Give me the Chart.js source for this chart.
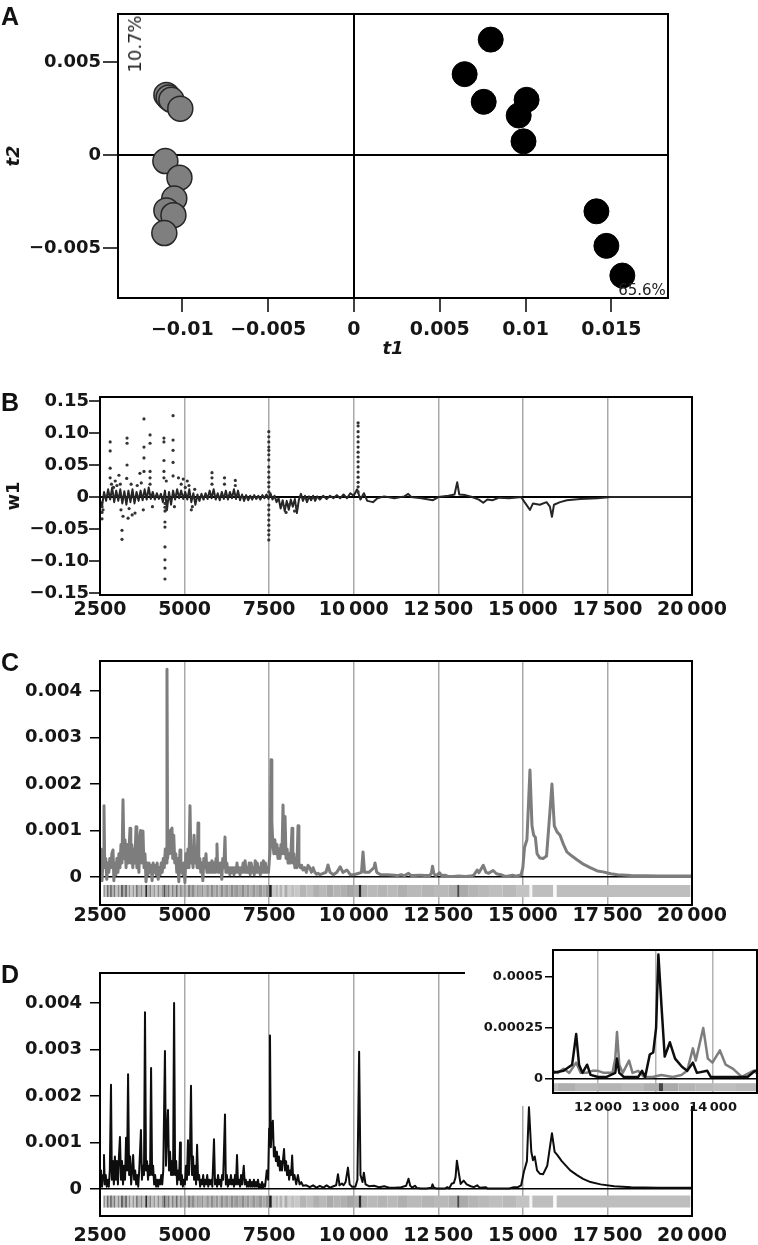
<!DOCTYPE html>
<html>
<head>
<meta charset="utf-8">
<script src="https://cdn.jsdelivr.net/npm/chart.js@4.4.1/dist/chart.umd.min.js"></script>
<style>
  html, body { margin: 0; padding: 0; background: #fff; }
  #page { position: relative; width: 758px; height: 1245px; overflow: hidden; }
  canvas, .tag, .note, #insetBg { position: absolute; }
  .tag { left: 1px; font: bold 25px 'Liberation Sans', Arial, sans-serif; line-height: 1; color: #111; }
  .note { font-family: 'DejaVu Sans', sans-serif; line-height: 1; color: #222; white-space: nowrap; transform: translate(-50%, -50%); }
  #insetBg { left: 465px; top: 940px; width: 293px; height: 166px; background: #fff; }
</style>
</head>
<body>
<div id="page">
  <canvas id="chartA" width="758" height="370" style="left:0;top:0"></canvas>
  <canvas id="chartB" width="758" height="250" style="left:0;top:380px"></canvas>
  <canvas id="chartC" width="758" height="290" style="left:0;top:640px"></canvas>
  <canvas id="chartD" width="758" height="315" style="left:0;top:930px"></canvas>
  <div id="insetBg"></div>
  <canvas id="chartInset" width="293" height="180" style="left:465px;top:940px"></canvas>
  <div class="tag" style="top:4px">A</div>
  <div class="tag" style="top:390px">B</div>
  <div class="tag" style="top:650px">C</div>
  <div class="tag" style="top:962px">D</div>
  <div class="note" style="left:135px;top:44px;font-size:18px;transform:translate(-50%,-50%) rotate(-90deg)">10.7%</div>
  <div class="note" style="left:642px;top:290px;font-size:15px">65.6%</div>
</div>
<script>
// ---- panel A: scores ----
const greyT1 = [-0.01093, -0.0108, -0.01064, -0.01012, -0.01099, -0.01017, -0.01047, -0.01093, -0.01052, -0.01105];
const greyT2 = [0.00324, 0.0031, 0.00298, 0.0025, -0.00032, -0.00122, -0.00234, -0.00298, -0.00324, -0.0042];
const blackT1 = [0.00797, 0.00645, 0.00756, 0.01006, 0.0096, 0.00988, 0.01413, 0.01471, 0.01564];
const blackT2 = [0.00622, 0.00436, 0.00287, 0.00298, 0.00213, 0.00074, -0.00303, -0.00489, -0.00649];
const scoreXTicks = [-0.01, -0.005, 0, 0.005, 0.01, 0.015];
const scoreXLabels = ['\u22120.01', '\u22120.005', '0', '0.005', '0.01', '0.015'];
const scoreYTicks = [-0.005, 0, 0.005];
const scoreYLabels = ['\u22120.005', '0', '0.005'];

// ---- shared m/z axis ----
const massTicks = [2500, 5000, 7500, 10000, 12500, 15000, 17500, 20000];
const massLabels = ['2500', '5000', '7500', '10\u2009000', '12\u2009500', '15\u2009000', '17\u2009500', '20\u2009000'];
const massGrid = [5000, 7500, 10000, 12500, 15000, 17500];

// ---- panel B: loadings w1 ----
const w1Ticks = [-0.15, -0.1, -0.05, 0, 0.05, 0.1, 0.15];
const w1Labels = ['\u22120.15', '\u22120.10', '\u22120.05', '0', '0.05', '0.10', '0.15'];
const w1Trace = [[2500,-0.005],[2560,-0.015],[2620,0.008],[2680,-0.006],[2740,0.012],[2800,-0.004],[2860,0.015],[2920,-0.008],[2980,0.01],[3040,-0.006],[3100,0.012],[3160,-0.01],[3220,0.009],[3280,-0.012],[3340,0.01],[3400,-0.008],[3460,0.012],[3520,-0.01],[3580,0.008],[3640,-0.006],[3700,0.01],[3760,-0.005],[3820,0.012],[3880,-0.004],[3940,0.015],[4000,-0.003],[4060,0.008],[4120,-0.004],[4180,0.006],[4240,-0.003],[4300,0.005],[4360,-0.008],[4420,0.01],[4480,-0.02],[4540,0.008],[4600,-0.012],[4660,0.01],[4720,-0.004],[4780,0.012],[4840,-0.002],[4900,0.01],[4960,-0.003],[5020,0.008],[5080,-0.004],[5140,0.012],[5200,-0.008],[5260,0.006],[5320,-0.012],[5380,0.004],[5440,-0.006],[5500,0.005],[5560,-0.004],[5620,0.006],[5680,-0.003],[5740,0.01],[5800,-0.002],[5860,0.012],[5920,-0.004],[5980,0.006],[6040,-0.005],[6100,0.008],[6160,-0.003],[6220,0.01],[6280,-0.004],[6340,0.008],[6400,-0.002],[6460,0.012],[6520,-0.003],[6580,0.01],[6640,-0.005],[6700,0.004],[6760,-0.006],[6820,0.003],[6880,-0.005],[6940,0.002],[7000,-0.004],[7060,0.003],[7120,-0.003],[7180,0.002],[7240,-0.004],[7300,0.003],[7360,-0.002],[7420,0.004],[7480,-0.003],[7540,0.006],[7600,-0.004],[7660,0.002],[7720,-0.008],[7780,-0.002],[7840,-0.018],[7900,-0.005],[7960,-0.022],[8020,-0.006],[8080,-0.02],[8140,-0.004],[8200,-0.015],[8260,-0.003],[8320,-0.025],[8380,-0.004],[8440,0.005],[8500,-0.006],[8560,0.002],[8620,-0.008],[8680,0.001],[8740,-0.005],[8800,0.002],[8860,-0.006],[8920,0.001],[9000,-0.004],[9100,0.002],[9200,-0.003],[9300,0.002],[9400,-0.002],[9500,0.003],[9600,-0.002],[9700,0.004],[9800,-0.002],[9900,0.006],[10000,0.002],[10100,0.012],[10200,-0.004],[10300,0.006],[10400,-0.006],[10570,-0.008],[10700,-0.002],[10900,0.001],[11200,-0.002],[11500,0.001],[11610,0.005],[11700,0],[12000,-0.002],[12345,-0.005],[12500,0],[12800,0.002],[12980,0.004],[13060,0.023],[13120,0.004],[13300,0.003],[13500,0],[13700,-0.004],[13830,-0.009],[13950,-0.004],[14100,-0.005],[14300,-0.001],[14600,-0.002],[14950,0],[15050,-0.008],[15210,-0.02],[15300,-0.01],[15500,-0.012],[15700,-0.008],[15800,-0.015],[15860,-0.031],[15920,-0.012],[16100,-0.008],[16300,-0.005],[16700,-0.003],[17200,-0.002],[17600,0],[20000,0]];
const w1Dots = [[2560,-0.015],[2560,-0.024],[2560,-0.034],[2590,-0.02],[2800,0.086],[2800,0.072],[2800,0.045],[2800,0.03],[2840,0.02],[2900,0.015],[2950,0.025],[3000,0.018],[3060,0.034],[3100,0.02],[3150,-0.052],[3150,-0.066],[3120,-0.02],[3180,-0.03],[3300,0.092],[3300,0.084],[3300,0.05],[3290,0.029],[3330,-0.033],[3360,-0.018],[3420,0.02],[3450,-0.028],[3535,-0.025],[3600,0.018],[3680,0.037],[3720,0.022],[3800,0.122],[3800,0.078],[3800,0.061],[3800,0.04],[3780,-0.02],[3980,0.097],[3980,0.084],[3980,0.04],[3980,0.03],[3980,0.02],[4050,-0.015],[4390,0.092],[4390,0.086],[4390,0.057],[4390,0.04],[4390,0.03],[4420,-0.01],[4420,-0.016],[4420,-0.022],[4420,-0.039],[4420,-0.047],[4420,-0.078],[4420,-0.098],[4420,-0.111],[4420,-0.128],[4460,-0.02],[4460,0.025],[4660,0.127],[4660,0.089],[4660,0.073],[4660,0.054],[4660,0.033],[4700,-0.015],[4820,0.03],[4900,0.02],[4960,0.028],[5020,0.015],[5080,0.025],[5130,0.018],[5200,-0.02],[5230,-0.015],[5300,0.012],[5810,0.038],[5810,0.03],[5810,0.02],[6180,0.03],[6180,0.02],[6500,0.026],[6500,0.018],[7490,0.102],[7490,0.094],[7490,0.086],[7490,0.078],[7490,0.073],[7490,0.066],[7490,0.058],[7490,0.047],[7490,0.039],[7490,0.031],[7490,0.023],[7490,0.016],[7490,0.008],[7490,-0.0125],[7490,-0.02],[7490,-0.028],[7490,-0.036],[7490,-0.044],[7490,-0.052],[7490,-0.059],[7490,-0.067],[7950,-0.015],[8000,-0.024],[8100,-0.012],[8250,-0.022],[8320,-0.015],[10130,0.116],[10130,0.111],[10130,0.102],[10130,0.094],[10130,0.086],[10130,0.078],[10130,0.07],[10130,0.0625],[10130,0.055],[10130,0.047],[10130,0.039],[10130,0.031],[10130,0.023],[10130,0.016],[10130,0.008]];

// ---- panels C / D: mean spectra ----
const intensityTicks = [0, 0.001, 0.002, 0.003, 0.004];
const intensityLabels = ['0', '0.001', '0.002', '0.003', '0.004'];
const spectrumC = [[2500,0.0002],[2530,0.0006],[2560,-0.00008],[2590,0.0004],[2618,0.00153],[2640,0.0002],[2670,0.0004],[2700,-0.00005],[2730,0.0003],[2760,0.0001],[2790,0.0004],[2820,0.0002],[2850,0.0005],[2884,0.00058],[2910,-0.00008],[2940,0.0003],[2970,0.00005],[3000,0.0004],[3030,0.0001],[3060,0.0005],[3090,0.0002],[3120,0.0007],[3150,0.0003],[3180,0.00166],[3210,0.0004],[3240,0.0008],[3270,0.0002],[3300,0.0007],[3330,0.0003],[3360,0.0006],[3387,0.00105],[3410,0.0003],[3440,0.0007],[3470,0.0002],[3500,0.0006],[3530,0.0003],[3565,0.00108],[3590,0.0002],[3620,0.0006],[3650,0.0001],[3680,0.0009],[3700,0.001],[3730,0.0003],[3770,0.00099],[3800,0.0002],[3830,0.0005],[3860,-0.0001],[3890,0.0003],[3920,0.00005],[3950,0.0003],[3980,0.0001],[4010,0.00025],[4040,-0.00008],[4070,0.0003],[4100,0.0001],[4130,0.00025],[4160,0.00005],[4190,0.0003],[4220,-0.00005],[4250,0.0002],[4280,0.00005],[4310,0.0003],[4340,0.0001],[4370,0.0004],[4400,0.0002],[4430,0.0006],[4460,0.0003],[4480,0.00447],[4500,0.0004],[4530,0.001],[4560,0.0005],[4590,0.001],[4628,0.00105],[4650,0.0004],[4680,0.0009],[4710,0.0003],[4740,0.0005],[4770,0.0001],[4800,0.0004],[4830,-0.0001],[4865,0.00058],[4890,0.0001],[4920,0.0003],[4950,0.00005],[4980,0.0003],[5010,-0.00012],[5040,0.0005],[5070,0.0002],[5100,0.0006],[5130,0.0002],[5160,0.00153],[5190,0.0003],[5220,0.0006],[5250,0.0002],[5280,0.0009],[5310,0.0003],[5340,0.0005],[5370,0.0002],[5397,0.00116],[5420,0.0002],[5450,0.0004],[5480,0.0001],[5510,0.0003],[5540,-0.00008],[5570,0.0004],[5600,0.0002],[5633,0.0005],[5660,0.0001],[5690,0.0003],[5720,0.0001],[5750,0.0003],[5780,0.0001],[5810,0.00035],[5840,0.0001],[5870,0.0003],[5900,0.0001],[5930,0.0004],[5958,0.00071],[5980,0.0001],[6010,0.0003],[6040,0.0001],[6070,0.0003],[6100,-0.00005],[6130,0.0004],[6160,0.0002],[6195,0.00086],[6220,0.0001],[6250,0.0003],[6280,0.0001],[6310,0.0002],[6340,0.00005],[6370,0.0002],[6400,0.0001],[6430,0.0002],[6460,0.00005],[6490,0.0002],[6520,0.0001],[6550,0.0003],[6580,0.0001],[6610,0.0002],[6640,0.00005],[6670,0.0002],[6700,0.0001],[6730,0.0003],[6760,0.0001],[6790,0.00035],[6820,0.0001],[6850,0.0002],[6880,0.0001],[6910,0.0003],[6940,0.00005],[6970,0.0003],[7000,0.0001],[7030,0.0002],[7060,0.00005],[7090,0.00035],[7120,0.0001],[7150,0.0003],[7180,0.0001],[7210,0.0002],[7240,0.00005],[7270,0.0003],[7300,0.0001],[7330,0.00035],[7360,0.0001],[7390,0.0003],[7420,0.0001],[7450,0.0002],[7480,0.0001],[7530,0.0006],[7555,0.00252],[7580,0.0012],[7610,0.0007],[7640,0.0005],[7670,0.0008],[7700,0.0005],[7730,0.0007],[7760,0.0004],[7790,0.0006],[7820,0.0004],[7850,0.0007],[7880,0.0005],[7910,0.00155],[7940,0.0005],[7970,0.0013],[8000,0.0004],[8030,0.0006],[8060,0.0003],[8090,0.0005],[8120,0.0003],[8150,0.0006],[8176,0.00105],[8200,0.0003],[8230,0.0005],[8260,0.0002],[8290,0.0004],[8320,0.0002],[8354,0.0011],[8380,0.0003],[8420,0.0002],[8460,0.00025],[8500,0.00015],[8550,0.0002],[8600,0.0001],[8650,0.00025],[8700,0.0002],[8750,0.0001],[8800,0.0002],[8850,0.0001],[8900,0.00006],[8950,0.00008],[9000,0.00005],[9100,0.00008],[9180,0.0001],[9240,0.00026],[9300,0.0001],[9400,0.00005],[9500,0.0001],[9600,0.00022],[9680,0.0001],[9800,0.00015],[9900,0.00005],[10000,0.00005],[10150,0.00008],[10230,0.0001],[10275,0.00054],[10320,0.0001],[10450,0.0001],[10600,0.0002],[10630,0.0003],[10680,0.0001],[10800,0.00005],[11000,0.00005],[11217,0.00004],[11300,0.00003],[11400,0.00005],[11500,0.00003],[11620,0.00008],[11700,0.00003],[11800,0.00003],[11900,0.00004],[12000,0.00004],[12100,0.00003],[12250,0.00003],[12300,0.0001],[12330,0.00023],[12370,0.00007],[12430,0.00003],[12540,0.00009],[12600,0.00003],[12700,0.00004],[12800,0.00001],[12950,0.00001],[13100,0.00002],[13300,0.00001],[13450,0.00002],[13550,0.00004],[13650,0.00015],[13700,0.00009],[13830,0.00025],[13910,0.0001],[13990,0.00008],[14120,0.00014],[14220,0.00007],[14350,0.00005],[14500,0.00001],[14700,0.00004],[14800,0.00002],[14950,0.00005],[15000,0.0002],[15050,0.00064],[15120,0.0008],[15210,0.0023],[15270,0.0011],[15320,0.0009],[15370,0.00085],[15420,0.0005],[15500,0.00041],[15600,0.0004],[15700,0.00045],[15800,0.0014],[15860,0.002],[15930,0.0011],[16010,0.00097],[16100,0.0009],[16200,0.0007],[16300,0.00054],[16450,0.00045],[16600,0.00037],[16800,0.00027],[16990,0.0002],[17200,0.00013],[17370,0.00011],[17600,0.00007],[17800,0.00005],[18200,0.00003],[19000,0.00002],[20000,0.00002]];
const spectrumD = [[2500,0.0001],[2530,0.0004],[2560,0.00005],[2590,0.0003],[2618,0.00073],[2640,0.0001],[2670,0.0003],[2700,0.00005],[2730,0.0002],[2760,0.00005],[2790,0.0004],[2825,0.00224],[2850,0.0002],[2880,0.0006],[2910,0.0001],[2940,0.0007],[2970,0.0002],[3000,0.0006],[3030,0.0001],[3060,0.0007],[3090,0.00112],[3120,0.0002],[3150,0.0006],[3180,0.0001],[3210,0.0005],[3240,0.0002],[3270,0.0011],[3300,0.0004],[3330,0.00247],[3360,0.0003],[3390,0.0007],[3420,0.0001],[3450,0.0004],[3480,0.00073],[3510,0.0002],[3540,0.0004],[3570,0.0001],[3600,0.0003],[3630,0.00005],[3660,0.0004],[3710,0.00127],[3740,0.0002],[3770,0.0005],[3800,0.0003],[3830,0.0038],[3860,0.0004],[3890,0.0006],[3920,0.0002],[3950,0.0005],[3980,0.0003],[4010,0.0026],[4040,0.0003],[4070,0.0005],[4100,0.0001],[4130,0.0003],[4160,0.00005],[4190,0.0002],[4220,0.00005],[4250,0.0002],[4280,0.0001],[4310,0.0003],[4340,0.0001],[4370,0.0004],[4420,0.00297],[4450,0.0005],[4480,0.0012],[4510,0.0017],[4540,0.0004],[4570,0.0008],[4600,0.0003],[4630,0.0006],[4660,0.0003],[4690,0.004],[4720,0.0003],[4750,0.0006],[4780,0.0001],[4810,0.0004],[4840,0.0002],[4865,0.001],[4890,0.0001],[4920,0.0003],[4950,0.00005],[4980,0.0002],[5010,0.0001],[5040,0.0005],[5070,0.0002],[5100,0.00105],[5130,0.0003],[5160,0.0008],[5190,0.00222],[5220,0.0003],[5250,0.0007],[5280,0.0002],[5310,0.0005],[5340,0.0001],[5370,0.00095],[5400,0.0002],[5430,0.0003],[5460,0.00005],[5490,0.0002],[5520,0.0001],[5550,0.0003],[5580,0.00005],[5610,0.0002],[5640,0.0001],[5670,0.0003],[5700,0.00005],[5730,0.0002],[5760,0.0001],[5790,0.0002],[5820,0.00005],[5870,0.00107],[5900,0.0001],[5930,0.0002],[5960,0.00005],[5990,0.0003],[6020,0.0001],[6050,0.0002],[6080,0.00005],[6110,0.0003],[6140,0.0002],[6195,0.0016],[6220,0.0001],[6250,0.0003],[6280,0.00005],[6310,0.0002],[6340,0.0001],[6370,0.0003],[6400,0.0001],[6430,0.0002],[6460,0.00005],[6490,0.0003],[6520,0.0001],[6550,0.00073],[6580,0.0001],[6610,0.0002],[6640,0.00005],[6670,0.0003],[6700,0.0001],[6750,0.0005],[6780,0.0001],[6810,0.0002],[6840,0.00005],[6870,0.00015],[6900,0.00005],[6930,0.0002],[6960,0.00005],[6990,0.00015],[7020,0.00005],[7050,0.0002],[7080,0.00005],[7110,0.00015],[7140,0.00005],[7170,0.0002],[7200,0.00003],[7230,0.0001],[7260,0.00003],[7290,0.00015],[7320,0.00003],[7350,0.0001],[7380,0.00005],[7430,0.0004],[7470,0.0002],[7500,0.0013],[7525,0.0033],[7550,0.0009],[7580,0.0013],[7610,0.00147],[7640,0.0007],[7670,0.0009],[7700,0.0006],[7730,0.0008],[7760,0.0005],[7790,0.0007],[7820,0.0004],[7850,0.0006],[7880,0.0004],[7940,0.00086],[7970,0.0004],[8000,0.0006],[8030,0.0003],[8060,0.0005],[8090,0.0002],[8120,0.0004],[8150,0.0003],[8180,0.00072],[8210,0.0002],[8250,0.0003],[8300,0.0001],[8350,0.0003],[8400,0.0001],[8450,0.00015],[8500,0.00007],[8600,0.00008],[8700,0.00004],[8800,0.00008],[8900,0.00003],[9000,0.00007],[9100,0.00003],[9200,0.00008],[9300,0.00003],[9400,0.00006],[9480,0.00008],[9535,0.00032],[9580,0.00008],[9650,0.00012],[9700,0.00008],[9760,0.00015],[9830,0.00046],[9880,0.0001],[9950,0.00005],[10050,0.00005],[10110,0.0002],[10160,0.00295],[10200,0.0003],[10260,0.00015],[10300,0.00035],[10350,0.0001],[10450,0.00006],[10600,0.00007],[10750,0.00004],[10900,0.00006],[11050,0.00003],[11217,0.00003],[11400,0.00004],[11550,0.00007],[11620,0.00022],[11670,0.00007],[11730,0.00003],[11810,0.00007],[11870,0.00002],[12000,0.00001],[12150,0.00001],[12300,0.00003],[12330,0.0001],[12370,0.00003],[12450,0.00001],[12600,0.00001],[12700,0.00001],[12765,0.00004],[12820,0.00001],[12900,0.00012],[12960,0.00013],[13010,0.00025],[13050,0.00061],[13110,0.00033],[13160,0.00011],[13250,0.00018],[13340,0.0001],[13460,0.00006],[13550,0.00004],[13650,0.00008],[13720,0.00003],[13900,0.00004],[13960,0.00001],[14100,0.00001],[14400,0.00001],[14600,0.00001],[14730,0.00004],[14850,0.00004],[14950,0.00008],[15030,0.00037],[15120,0.0006],[15180,0.00176],[15250,0.0008],[15300,0.00062],[15350,0.0007],[15420,0.0004],[15500,0.00033],[15600,0.00032],[15720,0.0005],[15800,0.0009],[15860,0.0012],[15940,0.0008],[16010,0.00074],[16150,0.0006],[16400,0.0004],[16600,0.0003],[16780,0.00022],[17000,0.00015],[17300,0.0001],[17700,0.00006],[18200,0.00004],[19000,0.00003],[20000,0.00003]];

// barcode strip under the spectra: start of each segment and its grey level (0 black .. 255 white)
const stripMass = [2600,2650,2700,2760,2800,2850,2900,2960,3020,3080,3120,3180,3240,3300,3360,3400,3460,3520,3560,3620,3700,3760,3840,3900,3960,4020,4080,4140,4200,4260,4320,4380,4440,4500,4560,4620,4680,4740,4800,4860,4920,4980,5040,5100,5160,5220,5300,5360,5420,5500,5560,5640,5720,5780,5860,5920,6000,6060,6140,6200,6300,6360,6440,6520,6600,6680,6760,6840,6920,7000,7100,7200,7300,7400,7500,7580,7700,7760,7800,7900,7950,8050,8150,8250,8400,8600,8800,9000,9200,9400,9600,9800,10000,10150,10230,10400,10700,11000,11300,11600,12000,12400,12800,13060,13130,13400,13700,14000,14400,14800,15200,15280,15900,16000,19950];
const stripShade = [150,200,110,190,90,180,120,200,140,190,100,170,110,190,130,200,150,200,120,180,140,190,40,180,130,190,150,200,140,190,150,80,160,120,190,130,180,110,190,140,180,150,190,130,170,140,180,150,170,140,180,150,180,140,170,150,180,140,170,150,170,140,160,150,170,140,170,150,175,150,170,150,170,150,30,200,180,215,180,215,170,205,190,200,180,190,175,185,170,180,175,165,175,40,175,185,180,185,175,185,180,185,175,70,170,180,185,190,185,195,245,190,250,190,190];

// ---- inset ----
const insetMassTicks = [12000, 13000, 14000];
const insetMassLabels = ['12\u2009000', '13\u2009000', '14\u2009000'];
const insetTicks = [0, 0.00025, 0.0005];
const insetLabels = ['0', '0.00025', '0.0005'];

Chart.defaults.font.family = "'DejaVu Sans', sans-serif";
const ink = '#161616';
const clear = 'rgba(0,0,0,0)';
const xy = pairs => pairs.map(([x, y]) => ({ x, y }));
const grey = g => `rgb(${g},${g},${g})`;

// frame round the plot area
Chart.register({
  id: 'frame',
  afterDatasetsDraw(chart, args, opts) {
    const { ctx, chartArea: a } = chart;
    ctx.save();
    ctx.strokeStyle = '#000';
    ctx.lineWidth = opts.width || 2;
    ctx.strokeRect(a.left, a.top, a.right - a.left, a.bottom - a.top);
    ctx.restore();
  }
});

function baseOptions(padding, frameWidth) {
  return {
    responsive: false, animation: false, events: [],
    layout: { padding },
    plugins: { legend: { display: false }, tooltip: { enabled: false }, frame: { width: frameWidth } }
  };
}

function xAxis(o) {
  return {
    type: 'linear', min: o.min, max: o.max,
    afterBuildTicks: s => { s.ticks = o.ticks.map(v => ({ value: v })); },
    afterFit: s => { s.height = o.height; },
    border: { display: false },
    grid: {
      drawTicks: !!o.tick, tickLength: o.tick || 0, tickColor: '#000', tickWidth: 1.5,
      lineWidth: o.gridWidth || 1.5,
      color: c => c.tick && o.grid.includes(c.tick.value) ? o.gridColor : clear
    },
    ticks: { padding: o.pad, autoSkip: false, maxRotation: 0, color: ink,
      font: { size: o.font, weight: 'bold' }, callback: (v, i) => o.labels[i] },
    title: o.title ? { display: true, text: o.title, color: ink,
      font: { size: 18, weight: 'bold', style: 'italic' }, padding: { top: 0, bottom: o.titlePad } } : { display: false }
  };
}

function yAxis(o) {
  return {
    type: 'linear', min: o.min, max: o.max,
    afterBuildTicks: s => { s.ticks = o.ticks.map(v => ({ value: v })); },
    afterFit: s => { s.width = o.width; },
    border: { display: false },
    grid: {
      tickLength: o.tick, tickColor: '#000', tickWidth: 1.5, lineWidth: o.zeroWidth || 1.5,
      color: c => c.tick && c.tick.value === 0 ? '#000' : clear
    },
    ticks: { padding: o.pad, autoSkip: false, color: ink,
      font: { size: o.font, weight: 'bold' }, callback: (v, i) => o.labels[i] },
    title: o.title ? { display: true, text: o.title, color: ink,
      font: { size: 18, weight: 'bold', style: o.italic ? 'italic' : 'normal' }, padding: { top: 4, bottom: 0 } } : { display: false }
  };
}

function stripDataset(level, width) {
  return {
    label: 'strip', data: stripMass.map(x => ({ x, y: level })),
    borderColor: grey(180), borderWidth: width, borderCapStyle: 'butt', pointRadius: 0,
    segment: { borderColor: c => grey(stripShade[c.p0DataIndex]) }
  };
}

function spectrumDataset(label, pairs, color, width) {
  return { label, data: xy(pairs), borderColor: color, borderWidth: width,
    borderJoinStyle: 'round', pointRadius: 0, tension: 0 };
}

// A: score plot
new Chart(document.getElementById('chartA'), {
  type: 'scatter',
  data: { datasets: [
    { label: 'grey group', data: greyT1.map((v, i) => ({ x: v, y: greyT2[i] })),
      backgroundColor: '#7f7f7f', borderColor: '#262626', borderWidth: 1.5, pointRadius: 12.5 },
    { label: 'black group', data: blackT1.map((v, i) => ({ x: v, y: blackT2[i] })),
      backgroundColor: '#000', borderColor: '#000', borderWidth: 1, pointRadius: 12.5 }
  ] },
  options: Object.assign(baseOptions({ top: 10, right: 90, left: 0, bottom: 0 }, 2), {
    scales: {
      x: xAxis({ min: -0.01375, max: 0.0183, ticks: scoreXTicks, labels: scoreXLabels, grid: [0],
        gridColor: '#000', gridWidth: 2, tick: 14, height: 72, pad: 7, font: 19, title: 't1', titlePad: 10 }),
      y: yAxis({ min: -0.0077, max: 0.0076, ticks: scoreYTicks, labels: scoreYLabels, zeroWidth: 2,
        tick: 15, width: 118, pad: 2, font: 18, title: 't2', italic: true })
    }
  })
});

// B: loadings
new Chart(document.getElementById('chartB'), {
  type: 'line',
  data: { datasets: [
    { label: 'w1 points', data: xy(w1Dots), showLine: false, pointRadius: 1.6,
      pointBackgroundColor: '#333', pointBorderWidth: 0 },
    spectrumDataset('w1', w1Trace, '#262626', 2)
  ] },
  options: Object.assign(baseOptions({ top: 17, right: 66, left: 0, bottom: 0 }, 2), {
    scales: {
      x: xAxis({ min: 2500, max: 20000, ticks: massTicks, labels: massLabels, grid: massGrid,
        gridColor: '#a9a9a9', height: 35, pad: 4, font: 19 }),
      y: yAxis({ min: -0.153, max: 0.1562, ticks: w1Ticks, labels: w1Labels, zeroWidth: 2,
        tick: 11, width: 100, pad: 0, font: 18, title: 'w1' })
    }
  })
});

// C: grey spectrum
new Chart(document.getElementById('chartC'), {
  type: 'line',
  data: { datasets: [
    spectrumDataset('spectrum C', spectrumC, '#7d7d7d', 3),
    stripDataset(-0.0003, 12)
  ] },
  options: Object.assign(baseOptions({ top: 21, right: 66, left: 0, bottom: 0 }, 2), {
    scales: {
      x: xAxis({ min: 2500, max: 20000, ticks: massTicks, labels: massLabels, grid: massGrid,
        gridColor: '#a9a9a9', height: 25, pad: 0, font: 19 }),
      y: yAxis({ min: -0.000602, max: 0.004645, ticks: intensityTicks, labels: intensityLabels,
        tick: 10, width: 100, pad: 8, font: 18 })
    }
  })
});

// D: black spectrum
new Chart(document.getElementById('chartD'), {
  type: 'line',
  data: { datasets: [
    spectrumDataset('spectrum D', spectrumD, '#0d0d0d', 2),
    stripDataset(-0.00027, 12)
  ] },
  options: Object.assign(baseOptions({ top: 43, right: 66, left: 0, bottom: 0 }, 2), {
    scales: {
      x: xAxis({ min: 2500, max: 20000, ticks: massTicks, labels: massLabels, grid: massGrid,
        gridColor: '#a9a9a9', height: 29, pad: 9, font: 19 }),
      y: yAxis({ min: -0.00058, max: 0.004645, ticks: intensityTicks, labels: intensityLabels,
        tick: 10, width: 100, pad: 8, font: 18 })
    }
  })
});

// inset: zoom on 11 200 - 14 800
new Chart(document.getElementById('chartInset'), {
  type: 'line',
  data: { datasets: [
    spectrumDataset('spectrum D', spectrumD, '#0d0d0d', 2.5),
    spectrumDataset('spectrum C', spectrumC, '#7d7d7d', 2.5),
    stripDataset(-0.00004, 8)
  ] },
  options: Object.assign(baseOptions({ top: 10, right: 1, left: 0, bottom: 0 }, 2), {
    scales: {
      x: xAxis({ min: 11217, max: 14765, ticks: insetMassTicks, labels: insetMassLabels, grid: insetMassTicks,
        gridColor: '#b3b3b3', height: 27, pad: 7, font: 13 }),
      y: yAxis({ min: -0.0000686, max: 0.000632, ticks: insetTicks, labels: insetLabels,
        tick: 8, width: 88, pad: 2, font: 13 })
    }
  })
});
</script>
</body>
</html>
